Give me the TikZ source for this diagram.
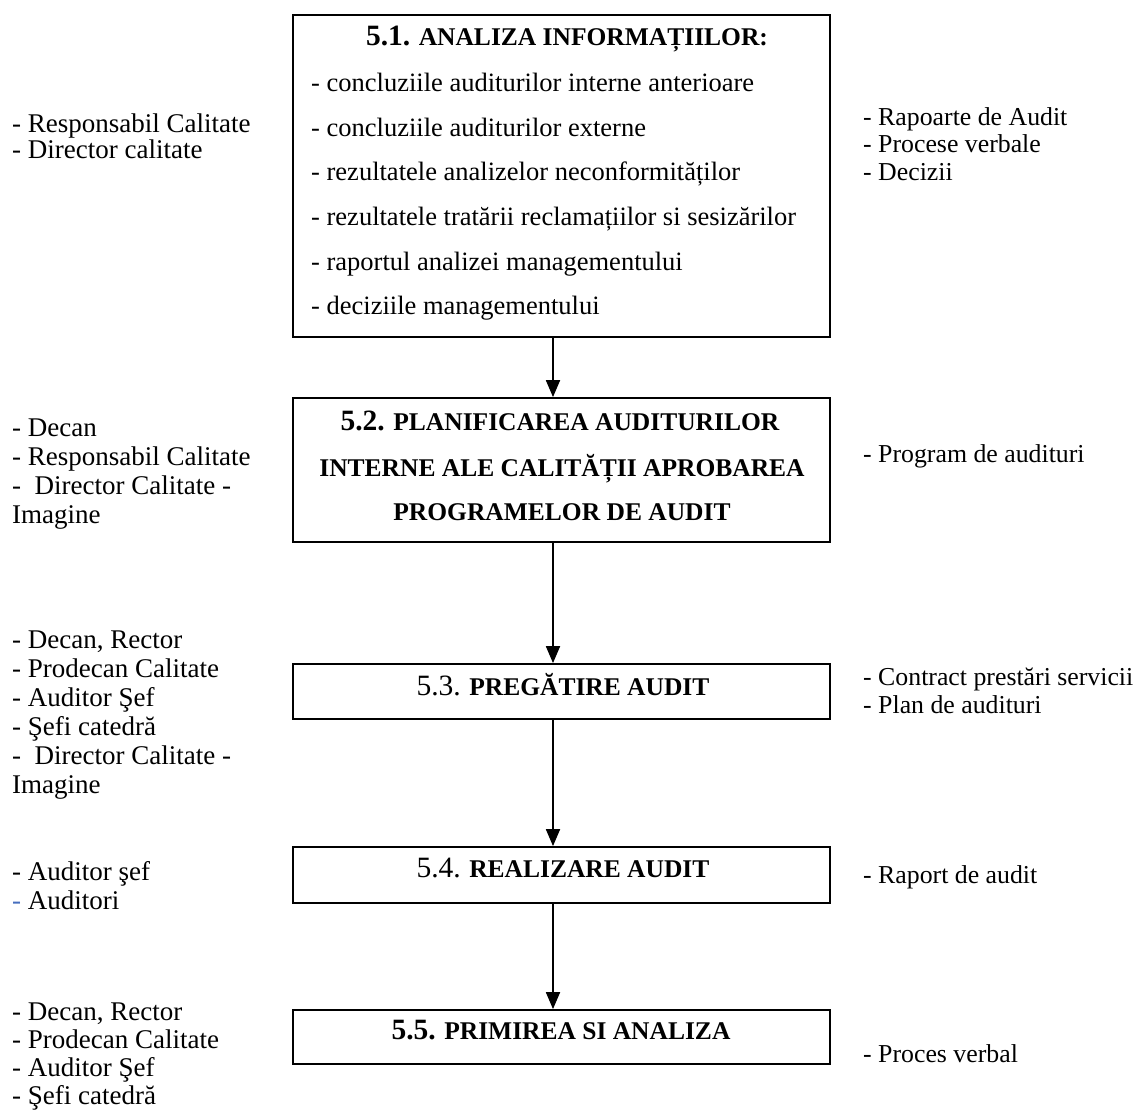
\documentclass[tikz,border=0pt]{standalone}
\usepackage{fontspec}
\setmainfont{Liberation Serif}
\usetikzlibrary{arrows.meta}
\newcommand\bignum[1]{{\fontsize{29.5}{30}\selectfont #1}}
\begin{document}
\begin{tikzpicture}[x=1pt,y=-1pt,
  boxnode/.style={draw, line width=1.8pt, inner sep=0pt, minimum width=537pt},
  lbl/.style={anchor=base west, inner sep=0pt, font=\fontsize{27}{30}\selectfont},
  rlbl/.style={anchor=base west, inner sep=0pt, font=\fontsize{25.8}{30}\selectfont},
  body/.style={anchor=base west, inner sep=0pt, font=\fontsize{26.5}{30}\selectfont},
  ttl/.style={anchor=base, inner sep=0pt, font=\fontsize{25.5}{30}\selectfont\bfseries},
  arr/.style={line width=1.8pt, -{Triangle[width=14pt,length=17pt]}}]
\useasboundingbox (0,0) rectangle (1138,1112);

% boxes
\node[boxnode, minimum height=322pt] (b1) at (561.5,176) {};
\node[boxnode, minimum height=144pt] (b2) at (561.5,470) {};
\node[boxnode, minimum height=55pt] (b3) at (561.5,691.5) {};
\node[boxnode, minimum height=56pt] (b4) at (561.5,875) {};
\node[boxnode, minimum height=54pt] (b5) at (561.5,1037) {};

% titles
\node[ttl] (t1) at (567,45) {\bignum{5.1.} ANALIZA INFORMAȚIILOR:};
\node[ttl] (t2a) at (560,430) {\bignum{5.2.} PLANIFICAREA AUDITURILOR};
\node[ttl] (t2b) at (562,476) {INTERNE ALE CALITĂȚII APROBAREA};
\node[ttl] (t2c) at (562,520) {PROGRAMELOR DE AUDIT};
\node[ttl] (t3) at (563,695) {{\mdseries\bignum{5.3.}} PREGĂTIRE AUDIT};
\node[ttl] (t4) at (563,877) {{\mdseries\bignum{5.4.}} REALIZARE AUDIT};
\node[ttl] (t5) at (561,1039) {\bignum{5.5.} PRIMIREA SI ANALIZA};

% body of box 5.1
\foreach \t [count=\i] in {concluziile auditurilor interne anterioare,
  concluziile auditurilor externe,
  rezultatele analizelor neconformităților,
  rezultatele tratării reclamațiilor si sesizărilor,
  raportul analizei managementului,
  deciziile managementului}
  \node[body] (L\i) at (311,{47+44.6*\i}) {- \t};

% left labels
\node[lbl] (l1a) at (12,132) {- Responsabil Calitate};
\node[lbl] (l1b) at (12,158) {- Director calitate};

\node[lbl] (l2a) at (12,436) {- Decan};
\node[lbl] (l2b) at (12,465) {- Responsabil Calitate};
\node[lbl] (l2c) at (12,494) {- \ Director Calitate -};
\node[lbl] (l2d) at (12,523) {Imagine};

\node[lbl] (l3a) at (12,648) {- Decan, Rector};
\node[lbl] (l3b) at (12,677) {- Prodecan Calitate};
\node[lbl] (l3c) at (12,706) {- Auditor Şef};
\node[lbl] (l3d) at (12,735) {- Şefi catedră};
\node[lbl] (l3e) at (12,764) {- \ Director Calitate -};
\node[lbl] (l3f) at (12,793) {Imagine};

\node[lbl] (l4a) at (12,880) {- Auditor şef};
\node[lbl] (l4b) at (12,909) {{\color[RGB]{70,110,190}-} Auditori};

\node[lbl] (l5a) at (12,1020) {- Decan, Rector};
\node[lbl] (l5b) at (12,1048) {- Prodecan Calitate};
\node[lbl] (l5c) at (12,1076) {- Auditor Şef};
\node[lbl] (l5d) at (12,1104) {- Şefi catedră};

% right labels
\node[rlbl] (r1a) at (863,125) {- Rapoarte de Audit};
\node[rlbl] (r1b) at (863,152.5) {- Procese verbale};
\node[rlbl] (r1c) at (863,180) {- Decizii};
\node[rlbl] (r2) at (863,462) {- Program de audituri};
\node[rlbl] (r3a) at (863,685) {- Contract prestări servicii};
\node[rlbl] (r3b) at (863,713) {- Plan de audituri};
\node[rlbl] (r4) at (863,883) {- Raport de audit};
\node[rlbl] (r5) at (863,1062) {- Proces verbal};

% connectors
\coordinate (ax) at (553,0);
\draw[arr] (b1.south -| ax) -- (b2.north -| ax);
\draw[arr] (b2.south -| ax) -- (b3.north -| ax);
\draw[arr] (b3.south -| ax) -- (b4.north -| ax);
\draw[arr] (b4.south -| ax) -- (b5.north -| ax);
\end{tikzpicture}
\end{document}
